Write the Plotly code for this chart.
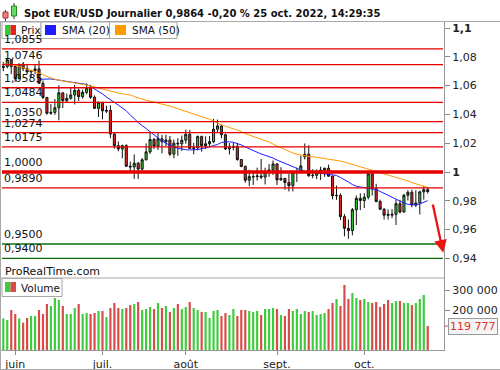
import plotly.graph_objects as go
import pandas as pd

# ---------------- data ----------------
dates = [d.strftime("%Y-%m-%d") for d in pd.bdate_range("2022-05-27", "2022-10-25")]

opens = [1.0725,1.0733,1.0780,1.0733,1.0648,1.0750,1.0718,1.0695,1.0705,1.0716,
         1.0616,1.0518,1.0408,1.0414,1.0446,1.0550,1.0496,1.0512,1.0535,1.0567,
         1.0523,1.0553,1.0584,1.0519,1.0442,1.0484,1.0422,1.0428,1.0264,1.0183,
         1.0160,1.0183,1.0040,1.0035,1.0061,1.0020,1.0085,1.0140,1.0226,1.0180,
         1.0231,1.0210,1.0222,1.0124,1.0200,1.0196,1.0221,1.0262,1.0164,1.0168,
         1.0246,1.0183,1.0196,1.0211,1.0297,1.0320,1.0259,1.0160,1.0170,1.0178,
         1.0087,1.0039,0.9943,0.9966,0.9968,0.9972,0.9965,1.0003,1.0015,1.0056,
         0.9945,0.9955,0.9927,0.9905,0.9996,1.0000,1.0105,1.0123,0.9975,0.9977,
         0.9998,1.0014,1.0026,0.9971,0.9835,0.9837,0.9690,0.9609,0.9593,0.9738,
         0.9817,0.9802,0.9825,0.9987,0.9883,0.9795,0.9741,0.9706,0.9700,0.9706,
         0.9780,0.9722,0.9838,0.9859,0.9771,0.9785,0.9862,0.9877]
highs = [1.0765,1.0787,1.0786,1.0737,1.0750,1.0764,1.0750,1.0710,1.0748,1.0774,
         1.0635,1.0520,1.0472,1.0507,1.0602,1.0551,1.0545,1.0583,1.0605,1.0580,
         1.0572,1.0615,1.0606,1.0532,1.0489,1.0486,1.0460,1.0463,1.0274,1.0212,
         1.0190,1.0193,1.0072,1.0122,1.0070,1.0096,1.0199,1.0272,1.0237,1.0278,
         1.0258,1.0259,1.0250,1.0225,1.0235,1.0254,1.0294,1.0293,1.0202,1.0254,
         1.0253,1.0248,1.0250,1.0368,1.0364,1.0330,1.0266,1.0201,1.0203,1.0202,
         1.0090,1.0045,1.0016,0.9999,1.0030,1.0090,1.0030,1.0055,1.0080,1.0060,
         1.0033,0.9960,0.9986,1.0008,1.0030,1.0113,1.0198,1.0186,1.0019,1.0017,
         1.0037,1.0030,1.0051,0.9976,0.9906,0.9852,0.9708,0.9670,0.9750,0.9837,
         0.9852,0.9853,0.9999,0.9999,0.9918,0.9808,0.9750,0.9740,0.9742,0.9809,
         0.9807,0.9848,0.9874,0.9877,0.9873,0.9870,0.9903,0.9895]
lows = [1.0700,1.0720,1.0680,1.0627,1.0645,1.0700,1.0680,1.0655,1.0680,1.0615,
        1.0507,1.0398,1.0397,1.0397,1.0359,1.0444,1.0480,1.0502,1.0469,1.0493,
        1.0510,1.0540,1.0508,1.0440,1.0382,1.0366,1.0410,1.0235,1.0162,1.0144,
        1.0095,1.0035,0.9998,0.9952,0.9952,1.0010,1.0080,1.0125,1.0160,1.0153,
        1.0130,1.0180,1.0110,1.0095,1.0113,1.0146,1.0196,1.0160,1.0123,1.0150,
        1.0141,1.0160,1.0180,1.0200,1.0275,1.0234,1.0153,1.0122,1.0150,1.0078,
        1.0033,0.9926,0.9901,0.9910,0.9940,0.9950,0.9914,0.9967,0.9980,0.9910,
        0.9940,0.9877,0.9865,0.9865,0.9930,0.9990,1.0087,0.9966,0.9956,0.9950,
        0.9945,0.9966,0.9967,0.9810,0.9807,0.9666,0.9553,0.9536,0.9560,0.9632,
        0.9735,0.9750,0.9810,0.9836,0.9790,0.9740,0.9670,0.9670,0.9680,0.9632,
        0.9713,0.9719,0.9803,0.9755,0.9756,0.9705,0.9808,0.9850]
closes = [1.0733,1.0780,1.0733,1.0648,1.0750,1.0718,1.0695,1.0705,1.0716,1.0616,
          1.0518,1.0408,1.0414,1.0446,1.0550,1.0496,1.0512,1.0535,1.0567,1.0523,
          1.0553,1.0584,1.0519,1.0442,1.0484,1.0425,1.0428,1.0264,1.0183,1.0160,
          1.0183,1.0040,1.0035,1.0061,1.0020,1.0085,1.0140,1.0226,1.0180,1.0231,
          1.0210,1.0222,1.0124,1.0200,1.0196,1.0221,1.0262,1.0164,1.0168,1.0246,
          1.0183,1.0196,1.0211,1.0297,1.0320,1.0259,1.0160,1.0170,1.0178,1.0087,
          1.0039,0.9943,0.9968,0.9968,0.9972,0.9965,1.0003,1.0015,1.0056,0.9945,
          0.9955,0.9927,0.9905,0.9996,1.0000,1.0042,1.0123,0.9975,0.9977,0.9998,
          1.0014,1.0026,0.9971,0.9835,0.9837,0.9690,0.9609,0.9593,0.9738,0.9817,
          0.9802,0.9825,0.9987,0.9883,0.9795,0.9741,0.9700,0.9700,0.9706,0.9780,
          0.9722,0.9838,0.9859,0.9771,0.9785,0.9862,0.9877,0.9864]
volumes = [158000,150000,200000,180000,158000,137000,160000,170000,170000,200000,
           180000,230000,220000,260000,250000,220000,180000,180000,210000,230000,
           180000,185000,180000,185000,195000,195000,165000,210000,235000,210000,
           205000,210000,225000,230000,240000,200000,205000,215000,205000,235000,
           210000,220000,190000,210000,230000,205000,215000,240000,210000,200000,
           190000,190000,160000,195000,200000,170000,185000,175000,205000,170000,
           200000,200000,195000,190000,195000,175000,205000,205000,210000,205000,
           175000,170000,205000,195000,205000,180000,195000,190000,195000,175000,
           180000,185000,205000,235000,255000,220000,325000,255000,285000,260000,
           250000,255000,240000,235000,240000,215000,230000,250000,235000,245000,
           245000,235000,235000,225000,235000,255000,275000,119777]
sma20_start = 9
sma20 = [1.0644,1.0646,1.0647,1.0646,1.0642,1.0638,1.0634,1.0631,1.0626,1.0622,
         1.0618,1.0616,1.0608,1.0594,1.0578,1.0563,1.0542,1.0521,1.0500,1.0483,
         1.0465,1.0446,1.0424,1.0397,1.0368,1.0344,1.0323,1.0302,1.0280,1.0257,
         1.0234,1.0215,1.0199,1.0185,1.0174,1.0165,1.0158,1.0155,1.0153,1.0153,
         1.0156,1.0162,1.0167,1.0174,1.0184,1.0191,1.0205,1.0210,1.0210,1.0206,
         1.0198,1.0188,1.0174,1.0161,1.0149,1.0137,1.0125,1.0116,1.0108,1.0097,
         1.0083,1.0071,1.0059,1.0049,1.0038,1.0028,1.0014,1.0005,1.0000,0.9997,
         0.9993,0.9991,0.9988,0.9984,0.9979,0.9976,0.9962,0.9948,0.9931,0.9913,
         0.9901,0.9896,0.9892,0.9890,0.9887,0.9878,0.9865,0.9851,0.9837,0.9823,
         0.9809,0.9795,0.9785,0.9776,0.9771,0.9771,0.9778,0.9788,0.9801]
sma50 = [1.0753,1.0750,1.0745,1.0740,1.0733,1.0724,1.0714,1.0705,1.0696,1.0688,
         1.0677,1.0663,1.0651,1.0644,1.0638,1.0632,1.0627,1.0622,1.0618,1.0613,
         1.0609,1.0604,1.0599,1.0592,1.0583,1.0576,1.0566,1.0558,1.0552,1.0547,
         1.0542,1.0538,1.0535,1.0524,1.0514,1.0503,1.0498,1.0492,1.0486,1.0479,
         1.0474,1.0467,1.0458,1.0449,1.0440,1.0431,1.0420,1.0410,1.0401,1.0390,
         1.0381,1.0373,1.0366,1.0354,1.0340,1.0326,1.0319,1.0310,1.0302,1.0292,
         1.0281,1.0267,1.0257,1.0248,1.0240,1.0231,1.0220,1.0208,1.0194,1.0181,
         1.0167,1.0156,1.0144,1.0132,1.0123,1.0117,1.0111,1.0108,1.0106,1.0102,
         1.0099,1.0095,1.0092,1.0088,1.0083,1.0076,1.0069,1.0061,1.0052,1.0042,
         1.0033,1.0026,1.0021,1.0014,1.0003,0.9995,0.9988,0.9981,0.9974,0.9965,
         0.9956,0.9947,0.9938,0.9927,0.9917,0.9910,0.9901,0.9892]

level_values = [1.0855, 1.0746, 1.0585, 1.0484, 1.0350, 1.0274, 1.0175, 1.0000, 0.9890, 0.9500, 0.9400]
level_labels = ["1,0855", "1,0746", "1,0585", "1,0484", "1,0350", "1,0274", "1,0175", "1,0000", "0,9890", "0,9500", "0,9400"]
level_kinds = ["r", "r", "r", "r", "r", "r", "r", "R", "r", "g", "g"]

price_ticks = [0.94, 0.96, 0.98, 1.0, 1.02, 1.04, 1.06, 1.08, 1.1]
price_ticktext = ["0,94", "0,96", "0,98", "<b>1</b>", "1,02", "1,04", "1,06", "1,08", "<b>1,1</b>"]
vol_ticks = [200000, 300000]
vol_ticktext = ["200 000", "300 000"]
month_ticks = ["2022-06-01", "2022-07-01", "2022-08-01", "2022-09-01", "2022-10-03"]
month_labels = ["juin", "juil.", "août", "sept.", "oct."]

title_text = "Spot EUR/USD Journalier 0,9864 -0,20 % 25 oct. 2022, 14:29:35"

# arrow (author drawing) in bar-index / price units
arrow_tail = (108.2, 0.9785)
arrow_tip = (110.9, 0.9440)

# ---------------- style ----------------
W, H = 500, 370
L, R, T, B = 2, 56, 22, 20
FONT = "DejaVu Sans"
GREEN = "#2fcc2f"
RED = "#e5231e"
VGREEN = "#3ccc3c"
VRED = "#d94a4a"
LINE_RED = "#e60000"
LINE_GREEN = "#0b6b0b"
FRAME = "#a8a8a8"

def px_x(x):
    return (x - L) / (W - L - R)

def px_y(y):
    return (H - B - y) / (H - T - B)

split = px_y(278)

fig = go.Figure()

fig.add_trace(go.Candlestick(
    x=dates, open=opens, high=highs, low=lows, close=closes,
    xaxis="x", yaxis="y",
    increasing=dict(fillcolor=GREEN, line=dict(color="#111111", width=1)),
    decreasing=dict(fillcolor=RED, line=dict(color="#111111", width=1)),
    whiskerwidth=0, hoverinfo="skip", showlegend=False,
))
fig.add_trace(go.Scatter(x=dates[sma20_start:], y=sma20, mode="lines",
                         line=dict(color="#1c1cff", width=1), xaxis="x", yaxis="y",
                         hoverinfo="skip", showlegend=False))
fig.add_trace(go.Scatter(x=dates, y=sma50, mode="lines",
                         line=dict(color="#ff9a00", width=1), xaxis="x", yaxis="y",
                         hoverinfo="skip", showlegend=False))

vol_colors = [VGREEN if c > o else VRED for o, c in zip(opens, closes)]
fig.add_trace(go.Bar(x=dates, y=volumes, marker=dict(color=vol_colors, line=dict(width=0)),
                     width=0.55, xaxis="x2", yaxis="y2", hoverinfo="skip", showlegend=False))

shapes = []
annotations = []

# level lines + labels
for v, lab, k in zip(level_values, level_labels, level_kinds):
    col = LINE_GREEN if k == "g" else LINE_RED
    wid = 3.5 if k == "R" else 1.3
    shapes.append(dict(type="line", xref="paper", yref="y", x0=0, x1=px_x(443), y0=v, y1=v,
                       line=dict(color=col, width=wid)))
    annotations.append(dict(xref="paper", yref="y", x=px_x(2), y=v, text=lab, showarrow=False,
                            xanchor="left", yanchor="bottom", yshift=1,
                            font=dict(family=FONT, size=11, color="#111111")))

# frame lines
shapes += [
    dict(type="line", xref="paper", yref="paper", x0=px_x(0), x1=px_x(500), y0=px_y(21.5), y1=px_y(21.5),
         line=dict(color=FRAME, width=1)),
    dict(type="line", xref="paper", yref="paper", x0=px_x(0), x1=1, y0=split, y1=split,
         line=dict(color=FRAME, width=1)),
    dict(type="line", xref="paper", yref="paper", x0=px_x(0), x1=0, y0=0, y1=0,
         line=dict(color=FRAME, width=1)),
    dict(type="line", xref="paper", yref="paper", x0=px_x(0.5), x1=px_x(0.5), y0=px_y(21.5), y1=px_y(369.5),
         line=dict(color=FRAME, width=1)),
    dict(type="line", xref="paper", yref="paper", x0=px_x(0), x1=px_x(500), y0=px_y(369.5), y1=px_y(369.5),
         line=dict(color=FRAME, width=1)),
]

def rect(x0, y0, x1, y1, fill, line_color=FRAME, lw=1):
    return dict(type="rect", xref="paper", yref="paper", x0=px_x(x0), x1=px_x(x1),
                y0=px_y(y1), y1=px_y(y0), fillcolor=fill, line=dict(color=line_color, width=lw))

def seg(x0, y0, x1, y1, col, lw=1):
    return dict(type="line", xref="paper", yref="paper", x0=px_x(x0), x1=px_x(x1),
                y0=px_y(y0), y1=px_y(y1), line=dict(color=col, width=lw))

# title icon
shapes += [
    seg(5.5, 10, 5.5, 21, "#333333"), rect(3, 12, 8, 18, "#f08080", "#b03030"),
    seg(14, 3, 14, 19, "#333333"), rect(11.5, 6, 16.5, 16, "#66dd66", "#2a8a2a"),
]

# legend boxes
shapes += [
    rect(2, 22, 41, 38.5, "white"), rect(41, 22, 109.5, 38.5, "white"), rect(109.5, 22, 177, 38.5, "white"),
    rect(5, 25, 10.5, 35, GREEN, GREEN, 0), rect(10.5, 25, 16, 35, RED, RED, 0),
    rect(45, 25, 56, 35, "#1c1cff", "#1c1cff", 0),
    rect(115, 25, 126, 35, "#ff9a00", "#ff9a00", 0),
    rect(2, 278.5, 62, 296.5, "white"),
    rect(5, 282, 10.5, 292, VGREEN, VGREEN, 0), rect(10.5, 282, 16, 292, VRED, VRED, 0),
]

def text(x, y, s, size=11, color="#111111", anchor="left"):
    return dict(xref="paper", yref="paper", x=px_x(x), y=px_y(y), text=s, showarrow=False,
                xanchor=anchor, yanchor="middle", font=dict(family=FONT, size=size, color=color))

annotations += [
    dict(xref="paper", yref="paper", x=px_x(22), y=px_y(13), text="<b>" + title_text + "</b>",
         showarrow=False, xanchor="left", yanchor="middle",
         font=dict(family=FONT, size=10, color="#111111")),
    text(19, 30.5, "Prix", 10.5), text(60, 30.5, "SMA (20)", 10.5), text(129.5, 30.5, "SMA (50)", 10.5),
    text(3, 271, "ProRealTime.com", 11),
    text(19, 287.5, "Volume", 10.5),
]

# last volume value box
last_vol_text = f"{volumes[-1]:,}".replace(",", " ")
shapes.append(dict(type="line", xref="paper", yref="y2", x0=1, x1=px_x(449), y0=volumes[-1], y1=volumes[-1],
                   line=dict(color=VRED, width=1)))
annotations.append(dict(xref="paper", yref="y2", x=px_x(472.5), y=volumes[-1], text=last_vol_text,
                        showarrow=False, xanchor="center", yanchor="middle",
                        bgcolor="#f4f4f4", bordercolor="#999999", borderwidth=1, borderpad=1,
                        font=dict(family=FONT, size=11, color="#e03030")))

# red arrow
annotations.append(dict(xref="x", yref="y", axref="x", ayref="y",
                        x=arrow_tip[0], y=arrow_tip[1], ax=arrow_tail[0], ay=arrow_tail[1],
                        showarrow=True, arrowhead=2, arrowsize=1.1, arrowwidth=2.3,
                        arrowcolor="#ee1111", text=""))

axis_font = dict(family=FONT, size=11, color="#222222")
xr = [-0.33, 111.1]

fig.update_layout(
    width=W, height=H, margin=dict(l=L, r=R, t=T, b=B, autoexpand=False),
    paper_bgcolor="white", plot_bgcolor="white", showlegend=False,
    font=dict(family=FONT, size=11, color="#111111"),
    boxgap=0.25,
    xaxis=dict(type="category", domain=[0, 1], anchor="y", range=xr, showticklabels=False,
               showgrid=False, zeroline=False, showline=False, ticks="",
               rangeslider=dict(visible=False), fixedrange=True),
    xaxis2=dict(type="category", domain=[0, 1], anchor="y2", range=xr, matches="x",
                tickmode="array", tickvals=month_ticks, ticktext=month_labels,
                ticks="outside", ticklen=4, tickcolor="#888888", showline=True, linecolor="#999999",
                showgrid=False, zeroline=False, tickfont=axis_font, automargin=False),
    yaxis=dict(domain=[split, 1], range=[0.92639, 1.10417], side="right", anchor="x",
               tickmode="array", tickvals=price_ticks, ticktext=price_ticktext,
               ticks="outside", ticklen=5, tickcolor="#888888", showline=True, linecolor="#999999",
               showgrid=False, zeroline=False, tickfont=axis_font, automargin=False),
    yaxis2=dict(domain=[0, split], range=[0, 360000], side="right", anchor="x2",
                tickmode="array", tickvals=vol_ticks, ticktext=vol_ticktext,
                ticks="outside", ticklen=5, tickcolor="#888888", showline=True, linecolor="#999999",
                showgrid=False, zeroline=False, tickfont=axis_font, automargin=False),
    shapes=shapes, annotations=annotations,
)

fig.write_html("out.html", config={"displayModeBar": False},
               post_script="document.body.style.margin='0px';document.body.style.padding='0px';")
